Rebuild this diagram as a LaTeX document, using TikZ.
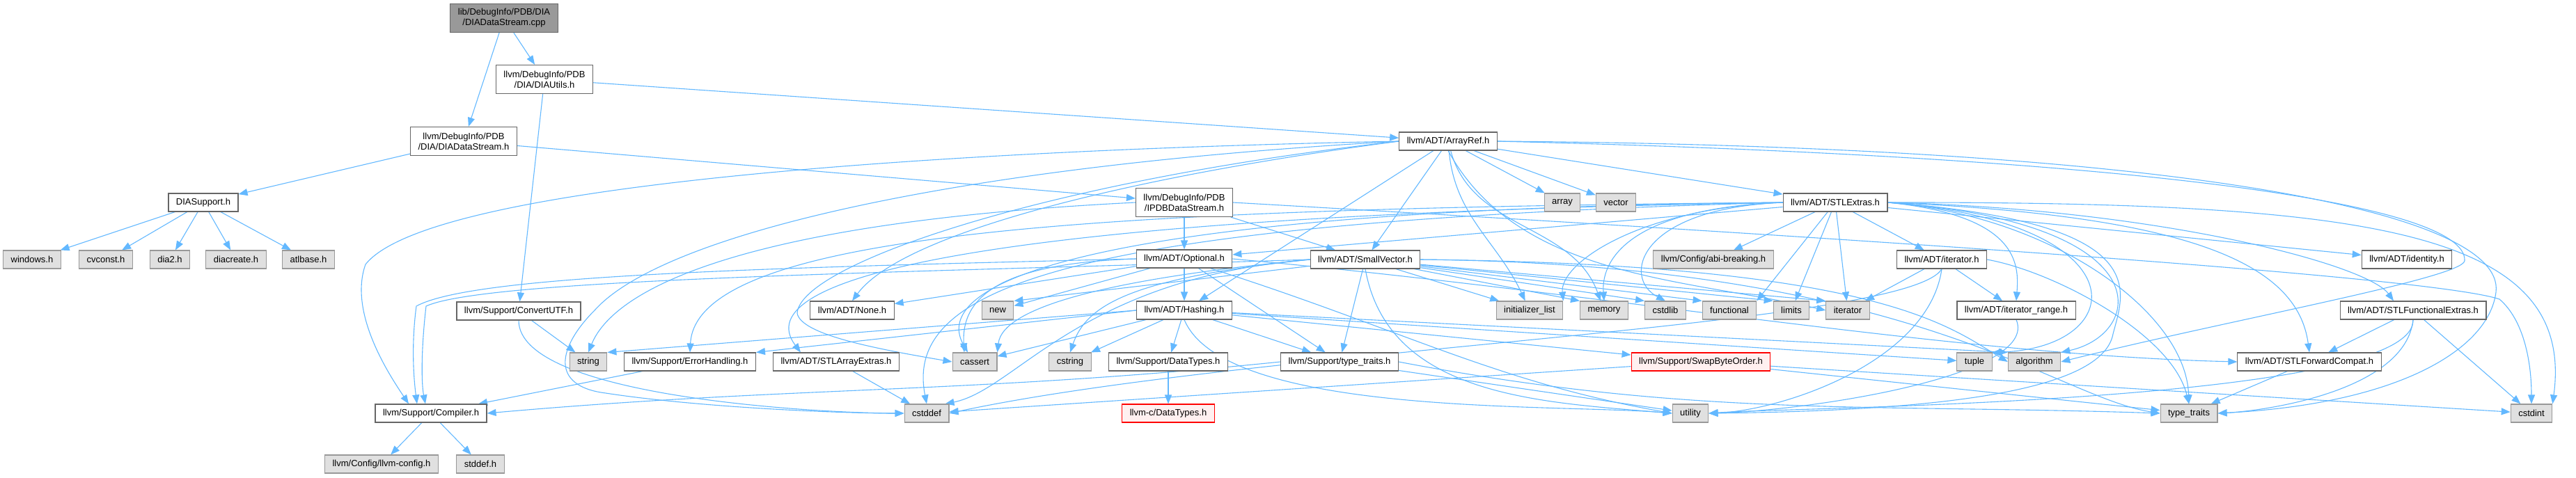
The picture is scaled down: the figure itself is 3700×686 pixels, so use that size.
\documentclass[tikz,border=0pt]{standalone}
\usepackage{fontspec}
\setmainfont{Liberation Sans}
\usetikzlibrary{arrows.meta}
\definecolor{doxEdge}{HTML}{63B8FF}
\definecolor{doxBorder}{HTML}{666666}
\definecolor{doxSysBorder}{HTML}{999999}
\definecolor{doxSysFill}{HTML}{E0E0E0}
\definecolor{doxMainFill}{HTML}{999999}
\definecolor{doxCutBorder}{HTML}{FF0000}
\definecolor{doxCutFill}{HTML}{FFF0F0}
\pgfdeclarelayer{background}
\pgfsetlayers{background,main}

\begin{document}
\begin{tikzpicture}[
    x=1pt, y=-1pt,
    ->, >={Stealth[length=13pt,width=10pt,inset=0pt]},
    link/.style={draw=doxEdge, line width=1.1pt},
    every edge/.style={link},
    file/.style={draw=doxBorder, fill=white, line width=1.1pt, inner xsep=11pt, inner ysep=0pt,
                 minimum height=26pt, align=center, font=\fontsize{13}{15}\selectfont},
    tall/.style={minimum height=41pt},
    sysfile/.style={file, draw=doxSysBorder, fill=doxSysFill},
    mainfile/.style={file, tall, fill=doxMainFill},
    cutfile/.style={file, draw=doxCutBorder, fill=doxCutFill}
]
    \useasboundingbox (0,0) rectangle (3700,686);

    \node[mainfile] (main) at (724,26) {lib/DebugInfo/PDB/DIA\\/DIADataStream.cpp};
    \node[file, tall] (diaUtils) at (782,114) {llvm/DebugInfo/PDB\\/DIA/DIAUtils.h};
    \node[file, tall] (diaStream) at (666,203) {llvm/DebugInfo/PDB\\/DIA/DIADataStream.h};
    \node[file] (arrayRef) at (2080,203) {llvm/ADT/ArrayRef.h};
    \node[file] (diaSupport) at (292,291) {DIASupport.h};
    \node[file, tall] (ipdbStream) at (1701,291) {llvm/DebugInfo/PDB\\/IPDBDataStream.h};
    \node[sysfile] (arrayH) at (2244,291) {array};
    \node[sysfile] (vectorH) at (2321,291) {vector};
    \node[file] (stlExtras) at (2636,291) {llvm/ADT/STLExtras.h};

    \node[sysfile] (windowsH) at (46,373) {windows.h};
    \node[sysfile] (cvconstH) at (152,373) {cvconst.h};
    \node[sysfile] (dia2H) at (244,373) {dia2.h};
    \node[sysfile] (diacreateH) at (339,373) {diacreate.h};
    \node[sysfile] (atlbaseH) at (443,373) {atlbase.h};
    \node[file] (optionalH) at (1701,372) {llvm/ADT/Optional.h};
    \node[file] (smallVector) at (1961,373) {llvm/ADT/SmallVector.h};
    \node[sysfile] (abiBreaking) at (2461,373) {llvm/Config/abi-breaking.h};
    \node[file] (iteratorH) at (2789,373) {llvm/ADT/iterator.h};
    \node[file] (identityH) at (3457,373) {llvm/ADT/identity.h};

    \node[file] (convertUTF) at (745,447) {llvm/Support/ConvertUTF.h};
    \node[file] (noneH) at (1224,446) {llvm/ADT/None.h};
    \node[sysfile] (newH) at (1433,446) {new};
    \node[file] (hashingH) at (1701,446) {llvm/ADT/Hashing.h};
    \node[sysfile] (initList) at (2197,446) {initializer\_list};
    \node[sysfile] (memoryH) at (2304,446) {memory};
    \node[sysfile] (cstdlibH) at (2392,446) {cstdlib};
    \node[sysfile] (functionalH) at (2484,446) {functional};
    \node[sysfile] (limitsH) at (2573,446) {limits};
    \node[sysfile] (iteratorStd) at (2654,446) {iterator};
    \node[file] (iterRange) at (2896,446) {llvm/ADT/iterator\_range.h};
    \node[file] (stlFunctional) at (3466,446) {llvm/ADT/STLFunctionalExtras.h};

    \node[sysfile] (stringH) at (845,520) {string};
    \node[file] (errorHandling) at (991,520) {llvm/Support/ErrorHandling.h};
    \node[file] (stlArrayExtras) at (1201,520) {llvm/ADT/STLArrayExtras.h};
    \node[sysfile] (cassertH) at (1400,520) {cassert};
    \node[sysfile] (cstringH) at (1537,520) {cstring};
    \node[file] (dataTypes) at (1678,520) {llvm/Support/DataTypes.h};
    \node[file] (supportTypeTraits) at (1924,520) {llvm/Support/type\_traits.h};
    \node[cutfile] (swapByteOrder) at (2443,520) {llvm/Support/SwapByteOrder.h};
    \node[sysfile] (tupleH) at (2836,520) {tuple};
    \node[sysfile] (algorithmH) at (2922,520) {algorithm};
    \node[file] (stlForward) at (3317,520) {llvm/ADT/STLForwardCompat.h};

    \node[file] (compilerH) at (619,594) {llvm/Support/Compiler.h};
    \node[sysfile] (cstddefH) at (1331,594) {cstddef};
    \node[cutfile] (llvmcDataTypes) at (1678,594) {llvm-c/DataTypes.h};
    \node[sysfile] (utilityH) at (2428,594) {utility};
    \node[sysfile] (typeTraits) at (3144,594) {type\_traits};
    \node[sysfile] (cstdintH) at (3636,594) {cstdint};

    \node[sysfile] (llvmConfig) at (548,667) {llvm/Config/llvm-config.h};
    \node[sysfile] (stddefH) at (690,667) {stddef.h};

    \begin{pgfonlayer}{background}
    \path (main) edge (diaStream) edge (diaUtils);
    \path (diaUtils) edge (arrayRef) edge (convertUTF);
    \path (diaStream) edge (diaSupport) edge (ipdbStream);
    \path (diaSupport) edge (windowsH) edge (cvconstH) edge (dia2H) edge (diacreateH) edge (atlbaseH);

    \path (ipdbStream) edge (optionalH) edge (smallVector);
    \draw[link] (ipdbStream.west) .. controls (1050,320) and (880,420) .. (stringH.north);
    \draw[link] (ipdbStream.east) .. controls (2800,350) and (3500,400) .. (3590,430)
        .. controls (3625,460) and (3636,520) .. (cstdintH.north);

    \path (arrayRef) edge (arrayH) edge (vectorH) edge (stlExtras) edge (smallVector) edge (hashingH)
        edge[out=-85,in=115] (initList) edge[out=-75,in=110] (memoryH);
    \draw[link] (arrayRef.south) .. controls (2180,400) and (2420,400) .. (iteratorStd.west);
    \draw[link] (arrayRef.west) .. controls (1650,250) and (1300,330) .. (noneH.north);
    \draw[link] (arrayRef.west) .. controls (1400,215) and (620,260) .. (525,380)
        .. controls (500,450) and (560,540) .. ([xshift=-32pt]compilerH.north);
    \draw[link] (arrayRef.west) .. controls (1500,260) and (1150,380) .. (1145,450)
        .. controls (1150,480) and (1250,500) .. (cassertH.west);
    \draw[link] (arrayRef.west) .. controls (1350,240) and (950,340) .. (855,445)
        .. controls (800,500) and (790,555) .. (870,565)
        .. controls (1000,585) and (1200,594) .. (cstddefH.west);
    \draw[link] (arrayRef.east) .. controls (3050,225) and (3545,290) .. (3540,375)
        .. controls (3535,400) and (3200,460) .. (algorithmH.east);
    \draw[link] (arrayRef.east) .. controls (3100,210) and (3600,300) .. (3585,420)
        .. controls (3575,500) and (3450,580) .. (typeTraits.east);

    \path (stlExtras) edge (abiBreaking) edge (iteratorH) edge (functionalH.north east) edge (limitsH)
        edge (iteratorStd) edge (identityH) edge (optionalH);
    \draw[link] (stlExtras.east) .. controls (3100,300) and (3400,380) .. ([xshift=-28pt]stlFunctional.north);
    \draw[link] (stlExtras.east) .. controls (3150,310) and (3300,380) .. (stlForward.north);
    \draw[link] (stlExtras.east) .. controls (3400,290) and (3700,330) .. (cstdintH.north east);
    \draw[link] (stlExtras.east) .. controls (2950,310) and (3140,450) .. (typeTraits.north);
    \draw[link] (stlExtras.east) .. controls (2900,310) and (2900,380) .. (iterRange.north);
    \draw[link] (stlExtras.east) .. controls (3080,320) and (3060,500) .. (tupleH.north east);
    \draw[link] (stlExtras.east) .. controls (3110,320) and (3080,480) .. (algorithmH.north east);
    \draw[link] (stlExtras.east) .. controls (3100,320) and (3050,420) .. (3035,480)
        .. controls (3020,560) and (2800,590) .. (utilityH.east);
    \draw[link] (stlExtras.west) .. controls (2350,300) and (2240,380) .. (initList.north east);
    \draw[link] (stlExtras.west) .. controls (2330,300) and (2300,380) .. (memoryH.north);
    \draw[link] (stlExtras.west) .. controls (2350,300) and (2330,400) .. (cstdlibH.north);
    \draw[link] (stlExtras.west) .. controls (1600,300) and (1000,330) .. (errorHandling.north);
    \draw[link] (stlExtras.west) .. controls (1400,310) and (1070,400) .. ([xshift=40pt]stlArrayExtras.north west);
    \draw[link] (stlExtras.west) .. controls (1600,300) and (1330,400) .. ([xshift=-10pt]cassertH.north);
    \draw[link] (stlExtras.west) .. controls (1500,320) and (1300,420) .. (cstddefH.north);

    \path (optionalH) edge (hashingH) edge (noneH) edge (newH) edge (supportTypeTraits);
    \draw[link] (optionalH.-20) .. controls (2013,473) and (2148,549) .. (utilityH.west);
    \draw[link] (optionalH.east) .. controls (2300,420) and (2800,510) .. (stlForward.west);
    \draw[link] (optionalH.west) .. controls (1100,385) and (680,395) .. (598,440)
        .. controls (590,500) and (595,550) .. ([xshift=-20pt]compilerH.north);
    \draw[link] (optionalH.west) .. controls (1450,378) and (1380,420) .. ([xshift=-15pt]cassertH.north);

    \path (smallVector) edge (supportTypeTraits) edge (initList) edge (memoryH.north west)
        edge (cstdlibH.north west) edge (functionalH.north west) edge (limitsH.north west)
        edge (iteratorStd.north west) edge (newH.north east);
    \draw[link] (smallVector.south) .. controls (1994,571) and (2215,578) .. (utilityH.west);
    \draw[link] (smallVector.west) .. controls (1300,392) and (700,400) .. (612,440)
        .. controls (605,500) and (605,550) .. ([xshift=-8pt]compilerH.north);
    \draw[link] (smallVector.west) .. controls (1600,400) and (1440,440) .. (cassertH.north east);
    \draw[link] (smallVector.west) .. controls (1550,400) and (1460,560) .. ([xshift=-6pt]cstddefH.north east);
    \draw[link] (smallVector.west) .. controls (1620,400) and (1560,440) .. (cstringH.north);
    \draw[link] (smallVector.east) .. controls (2700,380) and (2800,470) .. (algorithmH.west);
    \draw[link] (smallVector.east) .. controls (2750,380) and (2950,570) .. (typeTraits.west);

    \path (hashingH) edge (dataTypes) edge (cstringH) edge (cassertH) edge (supportTypeTraits)
        edge (swapByteOrder) edge (tupleH) edge (algorithmH.north west);
    \path (hashingH.west) edge (errorHandling.north east) edge (stringH.north east);
    \draw[link] (hashingH.south) .. controls (1760,600) and (2240,580) .. (utilityH.west);

    \path (iteratorH) edge (iterRange) edge (iteratorStd);
    \draw[link] (iteratorH.south) .. controls (2770,520) and (2560,590) .. (utilityH.east);
    \draw[link] (iteratorH.east) .. controls (2950,390) and (3120,480) .. (typeTraits.north);
    \draw[link] (iteratorH.south) .. controls (2740,470) and (1800,500) .. (cstddefH.east);

    \draw[link] (iterRange.south) .. controls (2930,540) and (2600,590) .. (utilityH.east);
    \path (stlFunctional) edge (stlForward) edge (cstdintH);
    \draw[link] (stlFunctional.south) .. controls (3455,560) and (3260,590) .. (typeTraits.east);
    \draw[link] (stlFunctional.south) .. controls (3470,580) and (2580,585) .. (utilityH.east);
    \path (stlForward) edge (typeTraits);
    \path (supportTypeTraits) edge (utilityH);
    \draw[link] (supportTypeTraits.east) .. controls (2430,600) and (2680,580) .. (typeTraits.west);
    \draw[link] (supportTypeTraits.west) .. controls (1390,566) and (1140,555) .. (compilerH.east);
    \path (swapByteOrder) edge (cstddefH) edge (typeTraits) edge (cstdintH);
    \path (convertUTF) edge (stringH);
    \draw[link] (convertUTF.south) .. controls (745,572) and (1186,594) .. (cstddefH.west);
    \path (errorHandling) edge (compilerH);
    \path (stlArrayExtras) edge (cstddefH);
    \path (dataTypes) edge (llvmcDataTypes);
    \path (compilerH) edge (llvmConfig) edge (stddefH);
    \end{pgfonlayer}
\end{tikzpicture}
\end{document}
